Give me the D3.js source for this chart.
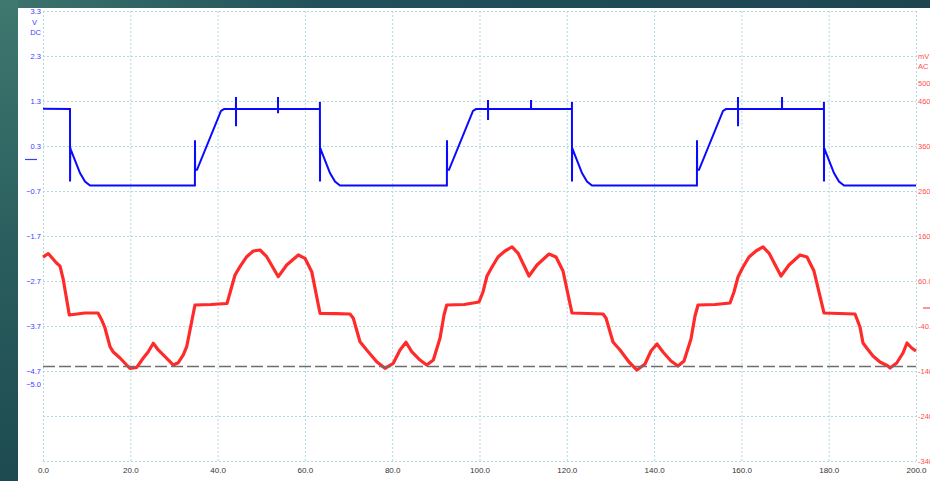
<!DOCTYPE html>
<html>
<head>
<meta charset="utf-8">
<script src="https://cdn.jsdelivr.net/npm/d3@7"></script>
<style>
  html, body { margin: 0; padding: 0; background: #1e4a51; overflow: hidden; }
  svg { display: block; }
  text { font-family: "Liberation Sans", Arial, sans-serif; }
</style>
</head>
<body>
<svg id="chart" width="930" height="481"></svg>
<script>
// ---- Time axis (ms) ----
const timeTicks = [0, 20, 40, 60, 80, 100, 120, 140, 160, 180, 200];

// ---- Channel A (V DC) ----
const chanAGrid = [3.3, 2.3, 1.3, 0.3, -0.7, -1.7, -2.7, -3.7, -4.7, -5.7, -6.7];
const chanATicks = [3.3, 2.3, 1.3, 0.3, -0.7, -1.7, -2.7, -3.7, -4.7, -5.0];

// ---- Channel B (mV AC) ----
const chanBTicks = [500, 460, 360, 260, 160, 60, -40, -140, -240, -340];
const chanBTickLabels = ["500", "460", "360", "260", "160", "60.0", "-40.0", "-140", "-240", "-340"];

// Ruler level on channel B (mV)
const rulerLevel = -130;

// Channel A trace: [time ms, volts]
const chanA = [
  [0, 1.13], [6.19, 1.12], [6.2, -0.49], [6.25, 0.26], [6.41, 0.21], [8.48, -0.3], [9.62, -0.49], [10.77, -0.58],
  [34.8, -0.58], [34.82, 0.43], [34.85, -0.23], [35.28, -0.23], [40.78, 1.08], [41.47, 1.12],
  [44.2, 1.12], [44.21, 1.39], [44.22, 0.74], [44.23, 1.12],
  [53.83, 1.12], [53.84, 1.39], [53.85, 1.03], [53.86, 1.12],
  [63.43, 1.12], [63.44, 1.28], [63.46, -0.49], [63.5, 0.26], [63.69, 0.21], [65.75, -0.3], [66.9, -0.49], [68.04, -0.58],
  [92.53, -0.58], [92.55, 0.43], [92.58, -0.23], [93.01, -0.23], [98.51, 1.08], [99.2, 1.12],
  [101.94, 1.12], [101.95, 1.32], [101.96, 0.88], [101.97, 1.12],
  [111.8, 1.12], [111.81, 1.32], [111.82, 1.12],
  [121.17, 1.12], [121.18, 1.28], [121.19, -0.49], [121.23, 0.26], [121.42, 0.21], [123.48, -0.3], [124.63, -0.49], [125.77, -0.58],
  [149.81, -0.58], [149.83, 0.43], [149.86, -0.23], [150.29, -0.23], [155.79, 1.08], [156.48, 1.12],
  [159.21, 1.12], [159.22, 1.39], [159.23, 0.74], [159.24, 1.12],
  [169.3, 1.12], [169.31, 1.39], [169.32, 1.12],
  [178.9, 1.12], [178.91, 1.28], [178.92, -0.49], [178.96, 0.26], [179.15, 0.21], [181.21, -0.3], [182.36, -0.49], [183.51, -0.58],
  [200, -0.58]
];

// Channel B trace: [time ms, millivolts]
const chanB = [
  [0, 113], [1.2, 121], [3.1, 100], [3.9, 93], [4.65, 63], [6.03, -15.6], [9.6, -11.1], [12.6, -11.1],
  [13.45, -26.7], [14.2, -44.4], [15.35, -86], [16.04, -97.1], [17.64, -111.1], [19.17, -126.7], [19.93, -134],
  [21.47, -131.8], [22.98, -111.1], [24.12, -97.1], [25.27, -78.4], [26.41, -93.3], [27.56, -104.4],
  [29.09, -119.3], [29.85, -126.7], [30.99, -121.6], [32.14, -104.4], [32.92, -86], [33.68, -48.9], [34.82, 6.7],
  [38.5, 7.8], [42.15, 10],
  [43.99, 73.3], [45.13, 91.8], [46.67, 114], [48.18, 126.7], [49.71, 128.9], [51.25, 114], [53.91, 69.6],
  [55.83, 95.6], [58.49, 117.8], [60.02, 110.4], [61.56, 80.7], [63.46, -11.8], [67, -12.5], [70.33, -13.3],
  [71.09, -22.9], [72.62, -75], [74.16, -93.3], [76.45, -119.3], [78.35, -134], [80.25, -122.9], [81.79, -93.3],
  [83.16, -76.2], [84.47, -97.1], [86.37, -115.6], [87.9, -126.7], [89.42, -115.6], [90.95, -67.3], [91.87, -15.6],
  [92.49, 6.7], [96.5, 7.8], [99.89, 13.3],
  [100.8, 35.6], [101.72, 71.1], [102.86, 91.1], [104.24, 113.3], [105.84, 126.7], [107.45, 135.6], [108.82, 122.2],
  [111.34, 71.1], [113.17, 95.6], [115.92, 120], [117.53, 113.3], [119.13, 82.2], [121.19, -11.1], [128.29, -13.3],
  [128.98, -22.2], [130.58, -75.6], [132.19, -93.3], [134.25, -120], [136.08, -137.8], [137.91, -124.4],
  [139.29, -95.6], [140.66, -80], [142.04, -97.8], [143.87, -117.8], [145.48, -128.9], [146.85, -117.8],
  [148.45, -68.9], [149.37, -17.8], [150.06, 6.7], [154, 7.8], [157.39, 11.1],
  [158.3, 35.6], [159.22, 68.9], [160.37, 91.1], [161.74, 113.3], [163.34, 126.7], [164.95, 135.6], [166.32, 122.2],
  [169.07, 71.1], [170.9, 95.6], [173.43, 117.8], [175.03, 113.3], [176.63, 82.2], [178.92, -11.1], [186.03, -13.3],
  [187.17, -42.2], [187.86, -77.8], [188.71, -88.9], [190.15, -106.7], [191.75, -120], [193.59, -128.9],
  [194.04, -133.3], [195.58, -122.2], [197.02, -100], [197.94, -77.8], [199.02, -88.9], [200, -95.6]
];

const svg = d3.select("#chart");
const W = 930, H = 481;
const plot = { left: 43, right: 916, top: 11, bottom: 461 };

const x = d3.scaleLinear().domain([0, 200]).range([plot.left, plot.right]);
const yA = d3.scaleLinear().domain([3.3, -6.7]).range([plot.top, plot.bottom]);
const yB = d3.scaleLinear().domain([660, -340]).range([plot.top, plot.bottom]);

// ---- Window chrome ----
const defs = svg.append("defs");
const sideGrad = defs.append("linearGradient").attr("id", "side").attr("x1", 0).attr("y1", 0).attr("x2", 0).attr("y2", 1);
sideGrad.append("stop").attr("offset", 0).attr("stop-color", "#3f786f");
sideGrad.append("stop").attr("offset", 0.45).attr("stop-color", "#2c6160");
sideGrad.append("stop").attr("offset", 1).attr("stop-color", "#1d4a50");
const topGrad = defs.append("linearGradient").attr("id", "topband").attr("x1", 0).attr("y1", 0).attr("x2", 1).attr("y2", 0);
topGrad.append("stop").attr("offset", 0).attr("stop-color", "#3c746d");
topGrad.append("stop").attr("offset", 0.35).attr("stop-color", "#22505a");
topGrad.append("stop").attr("offset", 1).attr("stop-color", "#1c4550");

svg.append("rect").attr("width", W).attr("height", H).attr("fill", "#1e4a51");
svg.append("rect").attr("width", W).attr("height", 8).attr("fill", "url(#topband)");
svg.append("rect").attr("y", 0).attr("width", 18).attr("height", H).attr("fill", "url(#side)");
svg.append("rect").attr("x", 18).attr("y", 8).attr("width", W - 18).attr("height", H - 8).attr("fill", "#ffffff");

// ---- Grid ----
const gridStyle = g => {
  g.select(".domain").remove();
  g.selectAll("line").attr("stroke", "#b3d7e5").attr("stroke-width", 1).attr("stroke-dasharray", "2,2");
  g.selectAll("text").remove();
};
svg.append("g")
  .attr("transform", `translate(${plot.left},0)`)
  .call(d3.axisLeft(yA).tickValues(chanAGrid).tickSize(-(plot.right - plot.left)).tickFormat(""))
  .call(gridStyle);
svg.append("g")
  .attr("transform", `translate(0,${plot.bottom})`)
  .call(d3.axisBottom(x).tickValues(timeTicks).tickSize(-(plot.bottom - plot.top)).tickFormat(""))
  .call(gridStyle);

// ---- Traces ----
const lineA = d3.line().x(d => x(d[0])).y(d => yA(d[1]));
const lineB = d3.line().x(d => x(d[0])).y(d => yB(d[1]));

svg.append("path").datum(chanB)
  .attr("d", lineB).attr("fill", "none")
  .attr("stroke", "#ff2a2a").attr("stroke-width", 3.2).attr("stroke-linejoin", "round");

svg.append("path").datum(chanA)
  .attr("d", lineA).attr("fill", "none")
  .attr("stroke", "#0a0aff").attr("stroke-width", 2).attr("stroke-linejoin", "miter");

// ---- Ruler ----
svg.append("line")
  .attr("x1", plot.left).attr("x2", plot.right)
  .attr("y1", yB(rulerLevel)).attr("y2", yB(rulerLevel))
  .attr("stroke", "#6e6e6e").attr("stroke-width", 1.5).attr("stroke-dasharray", "12,4");

// ---- Axis labels ----
const labelStyle = (color, size) => g => {
  g.select(".domain").remove();
  g.selectAll("line").remove();
  g.attr("font-family", "Liberation Sans, Arial, sans-serif").attr("font-size", size);
  g.selectAll("text").attr("fill", color);
};

svg.append("g")
  .attr("transform", `translate(${plot.left},0)`)
  .call(d3.axisLeft(yA).tickValues(chanATicks).tickSize(0).tickPadding(2).tickFormat(d3.format(".1f")))
  .call(labelStyle("#3c3cff", 7.5));

svg.append("g")
  .attr("transform", `translate(${plot.right},0)`)
  .call(d3.axisRight(yB).tickValues(chanBTicks).tickSize(0).tickPadding(2).tickFormat((d, i) => chanBTickLabels[i]))
  .call(labelStyle("#ff4d4d", 7.5));

svg.append("g")
  .attr("transform", `translate(0,${plot.bottom})`)
  .call(d3.axisBottom(x).tickValues(timeTicks).tickSize(0).tickPadding(6).tickFormat(d3.format(".1f")))
  .call(labelStyle("#333333", 8));

// Channel units
svg.append("text").attr("x", 32).attr("y", yA(3.3) + 11.7).attr("dy", "0.32em")
  .attr("font-size", 7.5).attr("fill", "#3c3cff").text("V");
svg.append("text").attr("x", 41).attr("y", yA(3.3) + 22).attr("dy", "0.32em").attr("text-anchor", "end")
  .attr("font-size", 7.5).attr("fill", "#3c3cff").text("DC");
svg.append("text").attr("x", 918).attr("y", yB(500) - 26).attr("dy", "0.32em")
  .attr("font-size", 7.5).attr("fill", "#ff4d4d").text("mV");
svg.append("text").attr("x", 918).attr("y", yB(500) - 16).attr("dy", "0.32em")
  .attr("font-size", 7.5).attr("fill", "#ff4d4d").text("AC");
svg.append("text").attr("x", 45).attr("y", 485)
  .attr("font-size", 8).attr("fill", "#333333").text("ms");
svg.append("text").attr("x", 480).attr("y", 486).attr("text-anchor", "middle")
  .attr("font-size", 8).attr("fill", "#333333").text("Pico Technology  www.picotech.com");

// Zero-level markers
svg.append("line").attr("x1", 25).attr("x2", 37).attr("y1", yA(0)).attr("y2", yA(0))
  .attr("stroke", "#3c3cff").attr("stroke-width", 1.2);
svg.append("line").attr("x1", 923).attr("x2", 930).attr("y1", yB(0)).attr("y2", yB(0))
  .attr("stroke", "#ff4d4d").attr("stroke-width", 1.2);
</script>
</body>
</html>
